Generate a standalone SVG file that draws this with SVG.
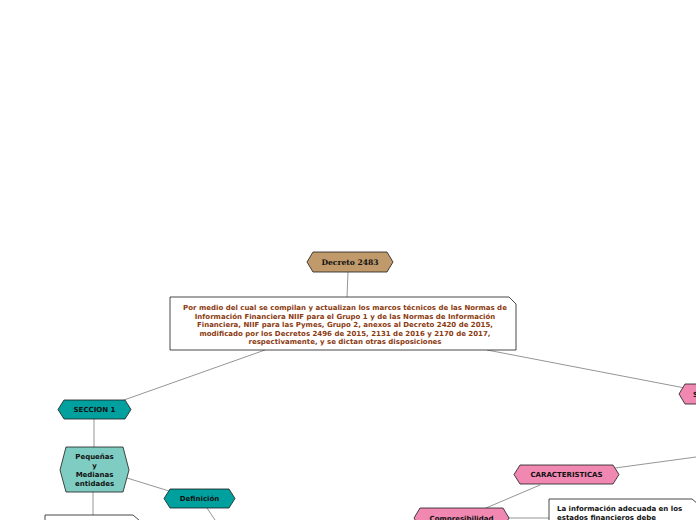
<svg xmlns="http://www.w3.org/2000/svg" width="696" height="520" viewBox="0 0 696 520">
<style>
.c{stroke:#7a7a7a;stroke-width:0.8;fill:none}
.n{stroke:#1a1a1a;stroke-width:0.8}
.t{font-family:"DejaVu Sans",Verdana,sans-serif;font-weight:bold;font-size:7px;fill:#111;text-anchor:middle}
.d{font-family:"DejaVu Sans",Verdana,sans-serif;font-weight:bold;font-size:7px;fill:#8B3A0F;text-anchor:middle}
.l{font-family:"DejaVu Sans",Verdana,sans-serif;font-weight:bold;font-size:7px;fill:#111}
</style>
<rect width="696" height="520" fill="#fff"/>
<g id="connectors">
<line class="c" x1="348" y1="272" x2="347" y2="297"/>
<line class="c" x1="265" y1="350" x2="124" y2="400"/>
<line class="c" x1="487" y1="350" x2="690" y2="389"/>
<line class="c" x1="94" y1="419" x2="94" y2="447"/>
<line class="c" x1="127" y1="478" x2="169" y2="491"/>
<line class="c" x1="207" y1="508" x2="215" y2="520"/>
<line class="c" x1="93" y1="492" x2="93" y2="515"/>
<line class="c" x1="696" y1="457" x2="615" y2="468"/>
<line class="c" x1="540" y1="485" x2="486" y2="508"/>
<line class="c" x1="509" y1="518" x2="549" y2="518"/>
</g>
<g id="decreto">
<polygon class="n" fill="#C09A6A" points="313,252 387,252 393,262 387,272 313,272 307,262"/>
<text x="350" y="265" style="font-family:'DejaVu Serif',serif;font-weight:bold;font-size:7.6px;fill:#111;text-anchor:middle">Decreto 2483</text>
</g>
<g id="descripcion">
<polygon class="n" fill="#fff" points="170,297 509,297 516,304 516,350 170,350"/>
<text class="d" x="345" y="310">Por medio del cual se compilan y actualizan los marcos técnicos de las Normas de</text>
<text class="d" x="345" y="318.5">Información Financiera NIIF para el Grupo 1 y de las Normas de Información</text>
<text class="d" x="345" y="327">Financiera, NIIF para las Pymes, Grupo 2, anexos al Decreto 2420 de 2015,</text>
<text class="d" x="345" y="335.5">modificado por los Decretos 2496 de 2015, 2131 de 2016 y 2170 de 2017,</text>
<text class="d" x="345" y="344">respectivamente, y se dictan otras disposiciones</text>
</g>
<g id="seccion1">
<polygon class="n" fill="#00A09F" points="64,400 125,400 131,409.5 125,419 64,419 58,409.5"/>
<text class="t" x="94.5" y="412">SECCION 1</text>
</g>
<g id="pymes">
<polygon class="n" fill="#7FCDC2" points="66,447 123,447 129,470 123,492 66,492 60,470"/>
<text class="t" x="94.5" y="459">Pequeñas</text>
<text class="t" x="94.5" y="468">y</text>
<text class="t" x="94.5" y="477">Medianas</text>
<text class="t" x="94.5" y="486">entidades</text>
</g>
<g id="definicion">
<polygon class="n" fill="#00A09F" points="170,489 229,489 235,498.5 229,508 170,508 164,498.5"/>
<text class="t" x="199.5" y="501">Definición</text>
</g>
<g id="caja-pymes">
<polygon class="n" fill="#fff" points="45,515 133,515 140,521 140,530 45,530"/>
</g>
<g id="seccion2">
<polygon class="n" fill="#F088B2" points="685,384 705,384 705,404 685,404 679,394"/>
<text class="l" x="693" y="397">SECCION 2</text>
</g>
<g id="caracteristicas">
<polygon class="n" fill="#F088B2" points="520,465 613,465 619,474.5 613,484 520,484 514,474.5"/>
<text class="t" x="566.5" y="477">CARACTERISTICAS</text>
</g>
<g id="compresibilidad">
<polygon class="n" fill="#F088B2" points="420,508 503,508 509,518 503,528 420,528 414,518"/>
<text class="t" x="461.5" y="521">Compresibilidad</text>
</g>
<g id="info">
<polygon class="n" fill="#fff" points="549,499 692,499 698,504 698,530 549,530"/>
<text class="l" x="557" y="511">La información adecuada en los</text>
<text class="l" x="557" y="519.5">estados financieros debe</text>
</g>
</svg>
